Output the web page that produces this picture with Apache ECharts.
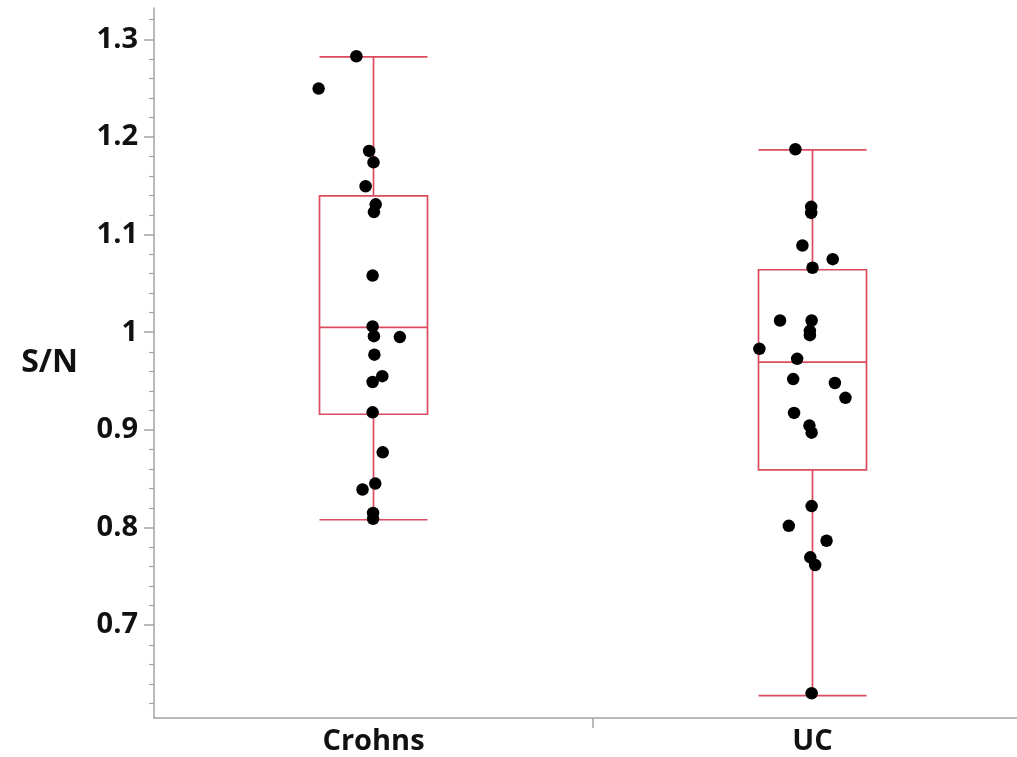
<!DOCTYPE html>
<html>
<head>
<meta charset="utf-8">
<script src="https://cdn.jsdelivr.net/npm/echarts@6/dist/echarts.min.js"></script>
<style>html,body{margin:0;padding:0;background:#fff}#c{width:1017px;height:757px}</style>
</head>
<body>
<div id="c"></div>
<script>
const categories = ['Crohns', 'UC'];
const yTickLabels = [0.7, 0.8, 0.9, 1.0, 1.1, 1.2, 1.3];
const yMinorTicks = [0.62, 0.64, 0.66, 0.68, 0.72, 0.74, 0.76, 0.78, 0.82, 0.84, 0.86, 0.88,
  0.92, 0.94, 0.96, 0.98, 1.02, 1.04, 1.06, 1.08, 1.12, 1.14, 1.16, 1.18, 1.22, 1.24, 1.26, 1.28, 1.32];

// box stats: [lower whisker, Q1, median, Q3, upper whisker]
const crohnsBox = [0.808, 0.916, 1.005, 1.1396, 1.282];
const ucBox = [0.628, 0.859, 0.9693, 1.064, 1.1867];

const crohnsValues = [1.2826, 1.2495, 1.1857, 1.174, 1.1495, 1.131, 1.123, 1.058, 1.006, 0.996,
  0.995, 0.977, 0.955, 0.949, 0.918, 0.877, 0.845, 0.839, 0.815, 0.809];
const crohnsJitter = [-0.039, -0.125, -0.010, 0.000, -0.018, 0.005, 0.001, -0.002, -0.002, 0.001,
  0.060, 0.002, 0.020, -0.002, -0.002, 0.021, 0.004, -0.025, -0.001, -0.001];

const ucValues = [1.1874, 1.1284, 1.1222, 1.0888, 1.0748, 1.066, 1.012, 1.012, 1.0014, 0.997,
  0.983, 0.9728, 0.952, 0.948, 0.9328, 0.9174, 0.9044, 0.8972, 0.822, 0.8018,
  0.7865, 0.7695, 0.7617, 0.6303];
const ucJitter = [-0.039, -0.003, -0.003, -0.023, 0.046, 0.000, -0.074, -0.002, -0.006, -0.006,
  -0.121, -0.035, -0.044, 0.051, 0.075, -0.042, -0.007, -0.002, -0.002, -0.054,
  0.032, -0.005, 0.006, -0.002];

const boxData = [[0].concat(crohnsBox), [1].concat(ucBox)];
const pointData = crohnsValues.map((v, i) => [0 + crohnsJitter[i], v])
  .concat(ucValues.map((v, i) => [1 + ucJitter[i], v]));

const RED = '#dc4b5e';
const AXIS = '#a3a3a3';
const FONT = 'Open Sans';
const BOX_HALF = 54;

const chart = echarts.init(document.getElementById('c'), null, {renderer: 'canvas'});
chart.setOption({
  animation: false,
  backgroundColor: '#fff',
  grid: {left: 154, right: 0, top: 8, bottom: 39, outerBoundsMode: 'none'},
  xAxis: {
    type: 'value', min: -0.5, max: 1.4658,
    splitLine: {show: false},
    axisLine: {show: true, onZero: false, lineStyle: {color: AXIS, width: 1.5}},
    axisTick: {show: true, customValues: [0.5], length: 10, lineStyle: {color: AXIS, width: 1.5}},
    axisLabel: {
      customValues: [0, 1], margin: 9,
      formatter: v => categories[Math.round(v)],
      fontFamily: FONT, fontWeight: 'bold', fontSize: 29, color: '#111'
    }
  },
  yAxis: [{
    type: 'value', min: 0.605, max: 1.332,
    name: 'S/N', nameLocation: 'middle', nameRotate: 0, nameGap: 76,
    nameTextStyle: {fontFamily: FONT, fontWeight: 'bold', fontSize: 32, color: '#111', align: 'right'},
    splitLine: {show: false},
    axisLine: {show: true, onZero: false, lineStyle: {color: AXIS, width: 1.5}},
    axisTick: {show: true, customValues: yTickLabels, length: 10, lineStyle: {color: AXIS, width: 1.5}},
    axisLabel: {
      customValues: yTickLabels, margin: 16,
      formatter: v => String(Math.round(v * 10) / 10),
      fontFamily: FONT, fontWeight: 'bold', fontSize: 29, color: '#111'
    }
  }, {
    type: 'value', min: 0.605, max: 1.332, position: 'left',
    splitLine: {show: false},
    axisLine: {show: false, onZero: false},
    axisLabel: {show: false},
    axisTick: {show: true, customValues: yMinorTicks, length: 5, lineStyle: {color: AXIS, width: 1.2}}
  }],
  series: [{
    type: 'custom',
    z: 2,
    data: boxData,
    encode: {x: 0, y: [1, 2, 3, 4, 5]},
    renderItem: function (params, api) {
      const x = api.value(0);
      const pLo = api.coord([x, api.value(1)]);
      const pQ1 = api.coord([x, api.value(2)]);
      const pMed = api.coord([x, api.value(3)]);
      const pQ3 = api.coord([x, api.value(4)]);
      const pHi = api.coord([x, api.value(5)]);
      const cx = pLo[0];
      const st = {stroke: RED, lineWidth: 1.7, fill: null};
      const line = (x1, y1, x2, y2) => ({type: 'line', shape: {x1, y1, x2, y2}, style: st});
      return {
        type: 'group',
        children: [
          line(cx - BOX_HALF, pHi[1], cx + BOX_HALF, pHi[1]),
          line(cx, pHi[1], cx, pQ3[1]),
          {type: 'rect', shape: {x: cx - BOX_HALF, y: pQ3[1], width: 2 * BOX_HALF, height: pQ1[1] - pQ3[1]}, style: {stroke: RED, lineWidth: 1.7, fill: 'rgba(0,0,0,0)'}},
          line(cx - BOX_HALF, pMed[1], cx + BOX_HALF, pMed[1]),
          line(cx, pQ1[1], cx, pLo[1]),
          line(cx - BOX_HALF, pLo[1], cx + BOX_HALF, pLo[1])
        ]
      };
    }
  }, {
    type: 'scatter',
    z: 5,
    data: pointData,
    symbol: 'circle',
    symbolSize: 12.5,
    itemStyle: {color: '#000', opacity: 1}
  }]
});
</script>
</body>
</html>
